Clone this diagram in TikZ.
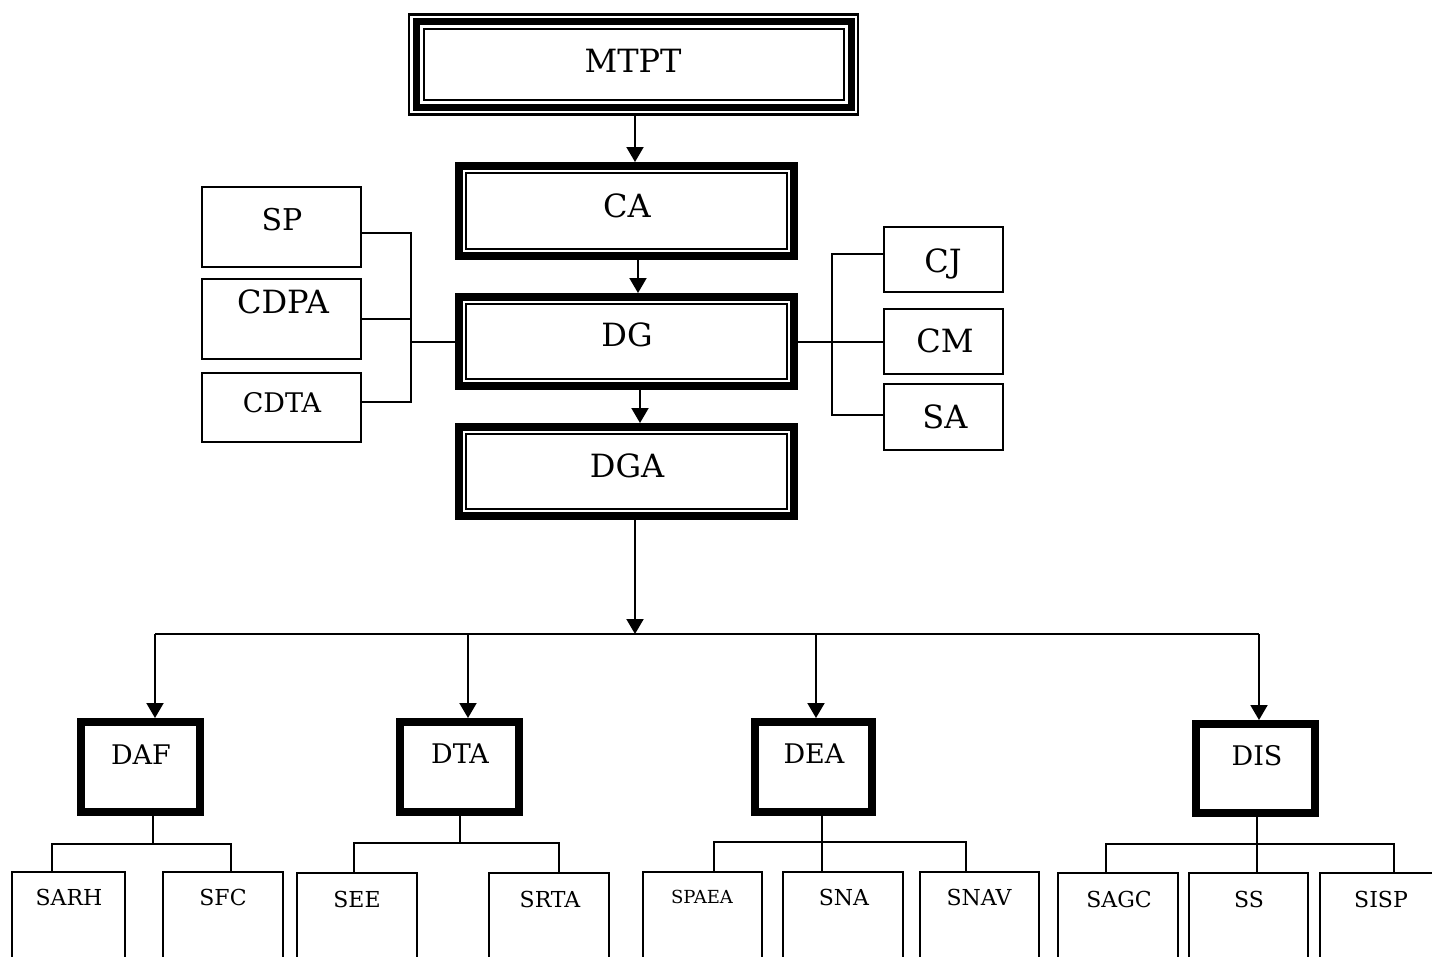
\documentclass[tikz,border=0pt]{standalone}
\usepackage{fontspec}
\setmainfont{DejaVu Serif}
\usetikzlibrary{arrows.meta,calc}
\newcommand{\fs}[1]{\fontsize{#1}{#1}\selectfont}
\begin{document}
\begin{tikzpicture}[x=1pt,y=-1pt,
  thinbox/.style={draw, rectangle, line width=2pt, inner sep=0pt},
  heavybox/.style={draw, rectangle, line width=8pt, inner sep=0pt},
  framed/.style={heavybox, path picture={\draw[line width=1.6pt]
      ([shift={(7,7)}]path picture bounding box.north west) rectangle
      ([shift={(-7,-7)}]path picture bounding box.south east);}},
  tripleframe/.style={draw, rectangle, line width=2.3pt, inner sep=0pt,
    path picture={
      \draw[line width=7pt]
      ([shift={(7,7)}]path picture bounding box.north west) rectangle
      ([shift={(-7,-7)}]path picture bounding box.south east);
      \draw[line width=2pt]
      ([shift={(14.5,14.5)}]path picture bounding box.north west) rectangle
      ([shift={(-14.5,-14.5)}]path picture bounding box.south east);}},
  lbl/.style={anchor=base, inner sep=0pt},
  conn/.style={line width=2pt},
  arr/.style={line width=2pt, -{Triangle[length=15pt,width=17pt]}},
]
\useasboundingbox (0,0) rectangle (1432,956);
\clip (0,0) rectangle (1432,956);

% ---- top chain
\node[tripleframe, minimum width=449pt, minimum height=100pt] (mtpt) at (633.75,64.5) {};
\node[lbl] (mtpt-t) at (633,72) {\fs{32}MTPT};

\node[framed, minimum width=335pt, minimum height=90pt] (ca) at (626.5,211) {};
\node[lbl] (ca-t) at (627,217) {\fs{32}CA};

\node[framed, minimum width=335pt, minimum height=89pt] (dg) at (626.5,341.5) {};
\node[lbl] (dg-t) at (627,346) {\fs{32}DG};

\node[framed, minimum width=335pt, minimum height=89pt] (dga) at (626.5,471.5) {};
\node[lbl] (dga-t) at (627,477) {\fs{32}DGA};

\draw[arr] ([xshift=1.25pt]mtpt.south) -- ([xshift=1.25pt]mtpt.south |- ca.north);
\draw[arr] ([xshift=11.5pt]ca.south) -- ([xshift=11.5pt]ca.south |- dg.north);
\draw[arr] ([xshift=13.5pt]dg.south) -- ([xshift=13.5pt]dg.south |- dga.north);

% ---- left advisers
\node[thinbox, minimum width=159pt, minimum height=80pt] (sp) at (281.5,227) {};
\node[lbl] (sp-t) at (282,230) {\fs{30}SP};
\node[thinbox, minimum width=159pt, minimum height=80pt] (cdpa) at (281.5,319) {};
\node[lbl] (cdpa-t) at (283,313) {\fs{32}CDPA};
\node[thinbox, minimum width=159pt, minimum height=69pt] (cdta) at (281.5,407.5) {};
\node[lbl] (cdta-t) at (282,412) {\fs{27}CDTA};

\coordinate (lj) at (411,341.5);
\draw[conn] ([yshift=-6pt]sp.east) -| (lj);
\draw[conn] ([yshift=5.5pt]cdta.east) -| (lj);
\draw[conn] (cdpa.east) -- (lj |- cdpa.east);
\draw[conn] (lj) -- (dg.west);

% ---- right advisers
\node[thinbox, minimum width=119pt, minimum height=65pt] (cj) at (943.5,259.5) {};
\node[lbl] (cj-t) at (943,272) {\fs{32}CJ};
\node[thinbox, minimum width=119pt, minimum height=65pt] (cm) at (943.5,341.5) {};
\node[lbl] (cm-t) at (945,352) {\fs{32}CM};
\node[thinbox, minimum width=119pt, minimum height=66pt] (sa) at (943.5,417) {};
\node[lbl] (sa-t) at (945,428) {\fs{32}SA};

\coordinate (rj) at (832,341.5);
\draw[conn] ([yshift=5.5pt]cj.west) -| (rj);
\draw[conn] ([yshift=2pt]sa.west) -| (rj);
\draw[conn] (dg.east) -- (cm.west);

% ---- directorates
\node[heavybox, minimum width=119pt, minimum height=90pt] (daf) at (140.5,767) {};
\node[lbl] (daf-t) at (141,764) {\fs{27}DAF};
\node[heavybox, minimum width=119pt, minimum height=90pt] (dta) at (459.5,767) {};
\node[lbl] (dta-t) at (460,763) {\fs{27}DTA};
\node[heavybox, minimum width=117pt, minimum height=90pt] (dea) at (813.5,767) {};
\node[lbl] (dea-t) at (814,763) {\fs{27}DEA};
\node[heavybox, minimum width=119pt, minimum height=89pt] (dis) at (1255.5,768.5) {};
\node[lbl] (dis-t) at (1257,765) {\fs{27}DIS};

\coordinate (bus) at (635,634);
\coordinate (b1) at (155,634);
\coordinate (b2) at (468,634);
\coordinate (b3) at (816,634);
\coordinate (b4) at (1259,634);
\draw[arr] ([xshift=8.5pt]dga.south) -- ([xshift=8.5pt]dga.south |- bus);
\draw[conn] (b1) -- (b4);
\draw[arr] (b1) -- (b1 |- daf.north);
\draw[arr] (b2) -- (b2 |- dta.north);
\draw[arr] (b3) -- (b3 |- dea.north);
\draw[arr] (b4) -- (b4 |- dis.north);

% ---- services
\tikzset{svc/.style={thinbox, minimum height=140pt}}
\node[svc, minimum width=113pt] (sarh) at (68.5,942) {};
\node[lbl] (sarh-t) at (69,905) {\fs{22}SARH};
\node[svc, minimum width=120pt] (sfc) at (223,942) {};
\node[lbl] (sfc-t) at (223,905) {\fs{22}SFC};

\node[svc, minimum width=120pt] (see) at (357,943) {};
\node[lbl] (see-t) at (357,907) {\fs{22}SEE};
\node[svc, minimum width=120pt] (srta) at (549,943) {};
\node[lbl] (srta-t) at (550,907) {\fs{22}SRTA};

\node[svc, minimum width=119pt] (spaea) at (702.5,942) {};
\node[lbl] (spaea-t) at (702,903) {\fs{18}SPAEA};
\node[svc, minimum width=120pt] (sna) at (843,942) {};
\node[lbl] (sna-t) at (844,905) {\fs{22}SNA};
\node[svc, minimum width=119pt] (snav) at (979.5,942) {};
\node[lbl] (snav-t) at (979,905) {\fs{22}SNAV};

\node[svc, minimum width=120pt] (sagc) at (1118,943) {};
\node[lbl] (sagc-t) at (1119,907) {\fs{22}SAGC};
\node[svc, minimum width=119pt] (ss) at (1248.5,943) {};
\node[lbl] (ss-t) at (1249,907) {\fs{22}SS};
\node[svc, minimum width=120pt] (sisp) at (1380,943) {};
\node[lbl] (sisp-t) at (1381,907) {\fs{22}SISP};

% DAF branch
\coordinate (j1) at (153,844);
\draw[conn] ([xshift=12.5pt]daf.south) -- (j1);
\draw[conn] ([xshift=-16.5pt]sarh.north) |- (j1) -| ([xshift=8pt]sfc.north);
% DTA branch
\coordinate (j2) at (459.5,843);
\draw[conn] (dta.south) -- (j2);
\draw[conn] ([xshift=-3pt]see.north) |- (j2) -| ([xshift=10pt]srta.north);
% DEA branch
\coordinate (j3) at (822,842);
\draw[conn] ([xshift=8.5pt]dea.south) -- ([xshift=8.5pt]dea.south |- sna.north);
\draw[conn] ([xshift=11.5pt]spaea.north) |- (j3) -| ([xshift=-13.5pt]snav.north);
% DIS branch
\coordinate (j4) at (1257,844);
\draw[conn] ([xshift=1.5pt]dis.south) -- ([xshift=1.5pt]dis.south |- ss.north);
\draw[conn] ([xshift=-12pt]sagc.north) |- (j4) -| ([xshift=14pt]sisp.north);
\end{tikzpicture}
\end{document}
